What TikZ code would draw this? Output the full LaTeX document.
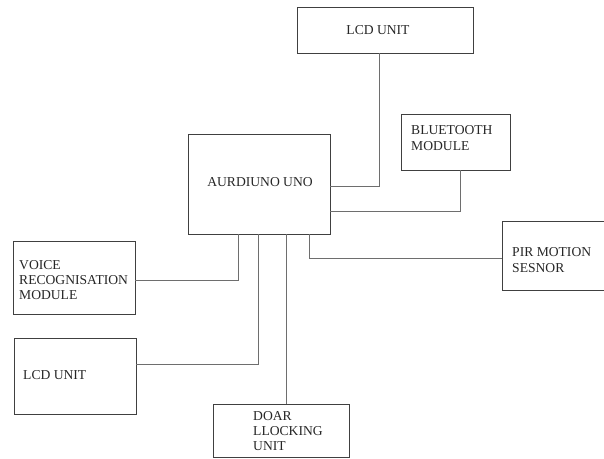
\documentclass[tikz,border=0pt]{standalone}
\usepackage{fontspec}
\setmainfont{Liberation Serif}
\usetikzlibrary{calc,positioning}

\definecolor{boxgray}{HTML}{404040}
\definecolor{wiregray}{HTML}{6E6E6E}

\tikzset{
  unitbox/.style={draw=boxgray, line width=0.9pt, inner sep=0pt},
  unittext/.style={align=left, inner sep=0pt, text=black!85, font=\fontsize{13.6}{15.4}\selectfont},
  wire/.style={draw=wiregray, line width=0.9pt}
}

\begin{document}
\begin{tikzpicture}[x=1pt,y=-1pt]
  \useasboundingbox (0,0) rectangle (604,458);

  % blocks
  \node [unitbox, minimum width=176, minimum height=46] (lcdtop) at (385,30) {};
  \node [unitbox, minimum width=109, minimum height=56] (bt) at (455.5,142) {};
  \node [unitbox, minimum width=142, minimum height=100] (uno) at (259,184) {};
  \node [unitbox, minimum width=102, minimum height=69] (pir) at (553,255.5) {};
  \node [unitbox, minimum width=122, minimum height=73] (voice) at (74,277.5) {};
  \node [unitbox, minimum width=122, minimum height=76] (lcdl) at (75,376) {};
  \node [unitbox, minimum width=136, minimum height=53] (door) at (281,430.5) {};

  % texts
  \node [unittext] (lcdtoptxt) at (378,30) {LCD UNIT};
  \node [unittext, anchor=west] (bttxt) at (411,138) {BLUETOOTH\\MODULE};
  \node [unittext] (unotxt) at (260,182) {AURDIUNO UNO};
  \node [unittext, anchor=west] (pirtxt) at (512,260) {PIR MOTION\\SESNOR};
  \node [unittext, anchor=west] (voicetxt) at (19,280) {VOICE\\RECOGNISATION\\MODULE};
  \node [unittext, anchor=west] (lcdltxt) at (23,375) {LCD UNIT};
  \node [unittext, anchor=west] (doortxt) at (253,431) {DOAR\\LLOCKING\\UNIT};

  % wires
  \draw [wire] ([xshift=-6pt]lcdtop.south) |- ([yshift=-2pt]uno.east);
  \draw [wire] ([xshift=4.5pt]bt.south) |- ([yshift=-27pt]uno.east);
  \draw [wire] ([xshift=50pt]uno.south) |- ([yshift=-2.5pt]pir.west);
  \draw [wire] ([xshift=-21pt]uno.south) |- ([yshift=-2.5pt]voice.east);
  \draw [wire] ([xshift=-1pt]uno.south) |- ([yshift=12pt]lcdl.east);
  \draw [wire] ([xshift=27pt]uno.south) -- ([xshift=27pt]uno.south |- door.north);
\end{tikzpicture}
\end{document}
